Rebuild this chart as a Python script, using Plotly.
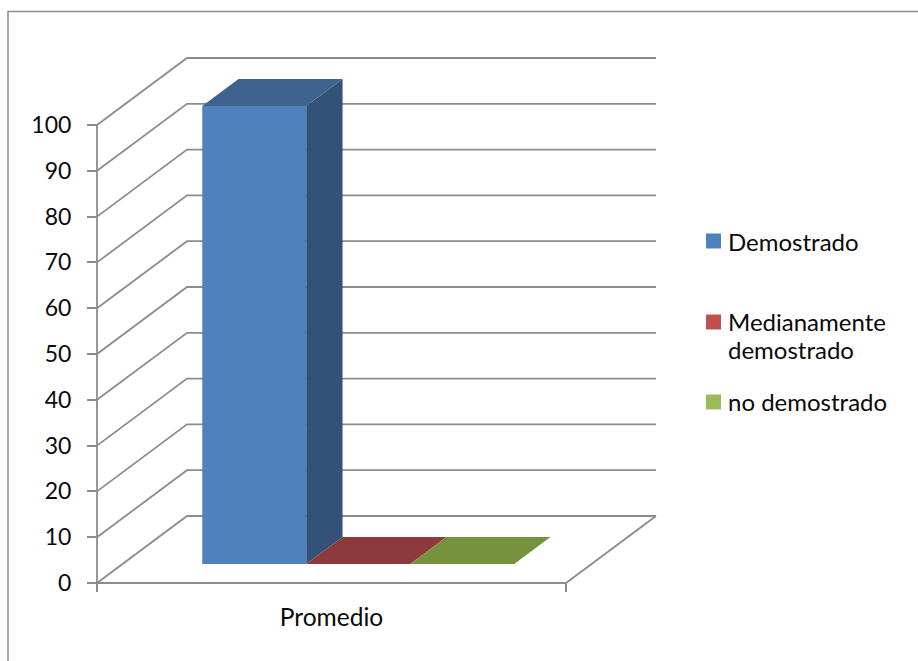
import plotly.graph_objects as go

# ---- data ----
CATEGORIES = ["Promedio"]
SERIES = ["Demostrado", "Medianamente<br>demostrado", "no demostrado"]
VALUES = [100, 0, 0]
Y_TICKS = [0, 10, 20, 30, 40, 50, 60, 70, 80, 90, 100]

# ---- styles ----
FRONT = ["#4F81BD", "#C0504D", "#9BBB59"]
TOP = ["#3E6390", "#8E3A3A", "#76923C"]
SIDE = ["#325279", "#7A2F2D", "#63792F"]
GRID = "#8C8C8C"
TEXT = "#0A0A0A"
FONT = "Lato"
W, H = 918, 661

# ---- layout geometry (pixels) ----
X0_PX, X1_PX = 97, 566      # front edge of the floor
Y0_PX, Y100_PX = 583, 125   # value axis
DEPTH_X_PX, DEPTH_Y_PX = 90, 67
D_L, D_R, D_T, D_B = 85, 672, 45, 596   # plot domain with padding

PX_X = X1_PX - X0_PX
PX_Y = (Y0_PX - Y100_PX) / 100


def proj(x, y, z):
    """oblique projection: x along the category axis, y value, z depth 0..1"""
    return x + z * DEPTH_X_PX / PX_X, y + z * DEPTH_Y_PX / PX_Y


def poly(points):
    xs, ys = zip(*[proj(*p) for p in points])
    return list(xs) + [xs[0]], list(ys) + [ys[0]]


fig = go.Figure()

# walls, floor and axis lines
gx, gy = [], []
for v in Y_TICKS:
    for p in [(0, v, 0), (0, v, 1), (1, v, 1)]:
        a, b = proj(*p)
        gx.append(a)
        gy.append(b)
    gx.append(None)
    gy.append(None)
for seg in [[(0, 0, 0), (0, 100, 0)], [(0, 0, 0), (1, 0, 0), (1, 0, 1)]]:
    for p in seg:
        a, b = proj(*p)
        gx.append(a)
        gy.append(b)
    gx.append(None)
    gy.append(None)
fig.add_trace(go.Scatter(x=gx, y=gy, mode="lines", line=dict(color=GRID, width=1.8),
                         showlegend=False, hoverinfo="skip"))

# 3-D columns
GAP = 0.17
BAR_W = 0.2217
Z_A, Z_B = 0.2836, 0.687
for i, (name, val) in enumerate(zip(SERIES, VALUES)):
    a, b = GAP + i * BAR_W, GAP + (i + 1) * BAR_W
    faces = [
        ([(b, 0, Z_A), (b, 0, Z_B), (b, val, Z_B), (b, val, Z_A)], SIDE[i]),
        ([(a, val, Z_A), (a, val, Z_B), (b, val, Z_B), (b, val, Z_A)], TOP[i]),
        ([(a, 0, Z_A), (b, 0, Z_A), (b, val, Z_A), (a, val, Z_A)], FRONT[i]),
    ]
    for pts, col in faces:
        fx, fy = poly(pts)
        fig.add_trace(go.Scatter(x=fx, y=fy, mode="lines", fill="toself", fillcolor=col,
                                 line=dict(width=0, color=col), showlegend=False,
                                 name=name.replace("<br>", " "), hoverinfo="name"))

# legend (placed to match the reference swatch/text spacing)
LEGEND_Y = [241, 322, 402]
LINE_STEP = 28
shapes = [dict(type="rect", xref="paper", yref="paper", x0=8 / W, x1=1.05,
               y0=-0.05, y1=1 - 11.5 / H, line=dict(color=GRID, width=1.5),
               fillcolor="rgba(0,0,0,0)", layer="below")]
annotations = []
for name, y, col in zip(SERIES, LEGEND_Y, FRONT):
    shapes.append(dict(type="rect", xref="paper", yref="paper", x0=706 / W, x1=721 / W,
                       y0=1 - (y + 7.5) / H, y1=1 - (y - 7.5) / H,
                       fillcolor=col, line=dict(width=0)))
    parts = name.split("<br>")
    for k, part in enumerate(parts):
        offset = (k - 0) * LINE_STEP - (1 if len(parts) > 1 else 0)
        annotations.append(dict(xref="paper", yref="paper", x=727 / W,
                                y=1 - (y + offset) / H,
                                xanchor="left", yanchor="middle", align="left", showarrow=False,
                                text=part, borderpad=0,
                                font=dict(family=FONT, size=24, color=TEXT)))

x_range = [(D_L - X0_PX) / PX_X, (D_R - X0_PX) / PX_X]
y_range = [(Y0_PX - D_B) / PX_Y, (Y0_PX - D_T) / PX_Y]

fig.update_layout(
    width=W, height=H, margin=dict(l=0, r=0, t=0, b=0),
    paper_bgcolor="white", plot_bgcolor="white", showlegend=False,
    shapes=shapes, annotations=annotations,
    xaxis=dict(domain=[D_L / W, D_R / W], range=x_range, anchor="free",
               position=1 - Y0_PX / H, showgrid=False, zeroline=False, showline=False,
               tickmode="array", tickvals=[0.5], ticktext=CATEGORIES, ticks="",
               ticklabelstandoff=17,
               tickfont=dict(family=FONT, size=24.5, color=TEXT),
               minor=dict(tickmode="array", tickvals=[0, 1], ticks="outside", ticklen=8,
                          tickcolor=GRID, tickwidth=1.8, showgrid=False)),
    yaxis=dict(domain=[1 - D_B / H, 1 - D_T / H], range=y_range, anchor="free",
               position=X0_PX / W, showgrid=False, zeroline=False, showline=False,
               tickmode="array", tickvals=Y_TICKS, ticks="outside", ticklen=10,
               tickcolor=GRID, tickwidth=1.8, ticklabelstandoff=11,
               tickfont=dict(family=FONT, size=23, color=TEXT)),
)

fig.write_html("out.html", config={"displayModeBar": False},
               post_script="document.body.style.margin='0';")
